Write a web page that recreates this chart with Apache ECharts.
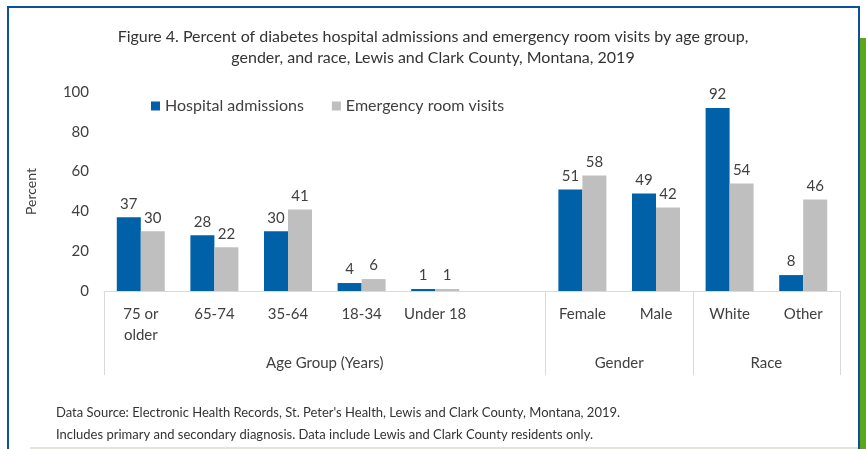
<!DOCTYPE html>
<html>
<head>
<meta charset="utf-8">
<script src="https://cdn.jsdelivr.net/npm/echarts@6/dist/echarts.min.js"></script>
<style>
  html, body { margin: 0; padding: 0; background: #ffffff; }
  #chart { width: 866px; height: 449px; }
</style>
</head>
<body>
<div id="chart"></div>
<script>
// Category slots along the x axis (the empty slot spaces Age from Gender)
const categories = ['75 or\nolder', '65-74', '35-64', '18-34', 'Under 18', '', 'Female', 'Male', 'White', 'Other'];
const hospitalAdmissions = [37, 28, 30, 4, 1, '-', 51, 49, 92, 8];
const erVisits = [30, 22, 41, 6, 1, '-', 58, 42, 54, 46];

// Second-level groups and how many slots each one covers
const groupNames = ['Age Group (Years)', 'Gender', 'Race'];
const groupSpans = [6, 2, 2];

const yTicks = [0, 20, 40, 60, 80, 100];

const titleLines = [
  'Figure 4. Percent of diabetes hospital admissions and emergency room visits by age group,',
  'gender, and race, Lewis and Clark County, Montana, 2019'
];
const footLines = [
  "Data Source: Electronic Health Records, St. Peter's Health, Lewis and Clark County, Montana, 2019.",
  'Includes primary and secondary diagnosis. Data include Lewis and Clark County residents only.'
];

// group boundaries and centres in slot units
const groupBounds = [0];
const groupCenters = [];
groupSpans.forEach(function (s) {
  const start = groupBounds[groupBounds.length - 1];
  groupCenters.push(start + s / 2);
  groupBounds.push(start + s);
});

const FONT = 'Lato';
const TXT = '#404040';
const BLUE = '#0060a8';
const GREY = '#bfbfbf';

const chart = echarts.init(document.getElementById('chart'), null, { renderer: 'canvas' });

const barLabel = {
  show: true,
  position: 'top',
  distance: 6,
  color: TXT,
  fontFamily: FONT,
  fontSize: 15
};

chart.setOption({
  animation: false,
  backgroundColor: '#ffffff',
  title: {
    text: titleLines.join('\n'),
    left: 'center',
    top: 21,
    textStyle: { fontFamily: FONT, fontSize: 16, fontWeight: 'normal', color: '#333333', lineHeight: 21 }
  },
  legend: {
    left: 146,
    top: 93,
    icon: 'rect',
    itemWidth: 9,
    itemHeight: 9,
    itemGap: 28,
    textStyle: { fontFamily: FONT, fontSize: 16, color: TXT },
    data: ['Hospital admissions', 'Emergency room visits']
  },
  grid: { left: 104, right: 26, top: 92, bottom: 158, containLabel: false },
  xAxis: [
    {
      type: 'category',
      position: 'bottom',
      data: categories,
      axisLine: { show: true, lineStyle: { color: '#d9d9d9', width: 1 } },
      axisTick: { show: false },
      axisLabel: {
        color: TXT, fontFamily: FONT, fontSize: 15, margin: 13,
        lineHeight: 21, interval: 0
      },
      splitLine: { show: false }
    },
    {
      type: 'value',
      position: 'bottom',
      min: 0,
      max: groupBounds[groupBounds.length - 1],
      axisLine: { show: false },
      axisTick: {
        show: true,
        inside: false,
        length: 84,
        customValues: groupBounds,
        lineStyle: { color: '#d9d9d9', width: 1 }
      },
      axisLabel: {
        show: true,
        margin: 65,
        customValues: groupCenters,
        color: TXT, fontFamily: FONT, fontSize: 15,
        formatter: function (v) {
          const i = groupCenters.indexOf(v);
          return i >= 0 ? groupNames[i] : '';
        }
      },
      splitLine: { show: false }
    }
  ],
  yAxis: {
    type: 'value',
    min: yTicks[0],
    max: yTicks[yTicks.length - 1],
    interval: yTicks[1] - yTicks[0],
    name: 'Percent',
    nameLocation: 'middle',
    nameRotate: 90,
    nameGap: 66,
    nameTextStyle: { fontFamily: FONT, fontSize: 14, color: TXT },
    axisLine: { show: false },
    axisTick: { show: false },
    splitLine: { show: false },
    axisLabel: { color: TXT, fontFamily: FONT, fontSize: 15, margin: 15 }
  },
  series: [
    {
      name: 'Hospital admissions',
      type: 'bar',
      xAxisIndex: 0,
      data: hospitalAdmissions,
      barWidth: 24,
      barGap: '0%',
      itemStyle: { color: BLUE },
      label: barLabel
    },
    {
      name: 'Emergency room visits',
      type: 'bar',
      xAxisIndex: 0,
      data: erVisits,
      barWidth: 24,
      barGap: '0%',
      itemStyle: { color: GREY },
      label: barLabel
    }
  ],
  graphic: [
    // page frame: blue rule on top, left and right, green band on the right edge
    { type: 'rect', shape: { x: 7, y: 6, width: 853, height: 2 }, style: { fill: '#0b4f9e' }, silent: true },
    { type: 'rect', shape: { x: 7, y: 6, width: 2, height: 443 }, style: { fill: '#0b4f9e' }, silent: true },
    { type: 'rect', shape: { x: 858, y: 6, width: 2, height: 443 }, style: { fill: '#0b4f9e' }, silent: true },
    { type: 'rect', shape: { x: 860, y: 38, width: 6, height: 411 }, style: { fill: '#5ea51c' }, silent: true },
    { type: 'rect', shape: { x: 30, y: 447, width: 828, height: 2 }, style: { fill: '#dcebd0' }, silent: true },
    {
      type: 'text', left: 56, top: 402, silent: true,
      style: { text: footLines.join('\n'), fontFamily: FONT, fontSize: 13, lineHeight: 22, fill: '#333333' }
    }
  ]
});
</script>
</body>
</html>
